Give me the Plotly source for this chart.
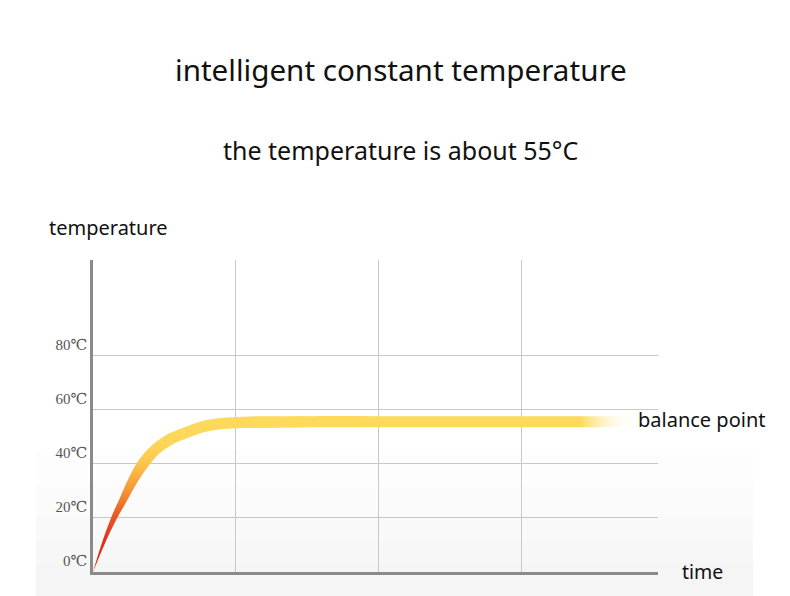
"""Intelligent constant temperature: heating curve up to the balance point."""
import math

import plotly.graph_objects as go

# ---------------------------------------------------------------- data
time_pts = [0, 0.068, 0.147, 0.21, 0.28, 0.35, 0.432, 0.549, 0.677, 0.794,
            0.91, 1.07, 1.5, 2.0, 2.5, 3.0, 3.5, 3.8]
temp_pts = [0, 10, 20, 26.6, 34, 40, 45.1, 49.4, 52.1, 54.1,
            55.0, 55.4, 55.6, 55.6, 55.6, 55.6, 55.6, 55.6]
y_ticks = [0, 20, 40, 60, 80]
y_tick_text = ["0℃", "20℃", "40℃", "60℃", "80℃"]
x_grid = [1, 2, 3]

# ---------------------------------------------------------------- geometry
W, H = 790, 596
OFF = 8                                      # page body margin
L, R, T, B = 93.3, 658, 260, 571.7          # plot area, page pixels
SX, SY = 142.9, 2.7                          # px per time unit / per degree
X_MAX = (R - L) / SX
Y_MAX = (B - T) / SY

HALF = 5.6                                   # half stroke width, px

YELLOW = "#fdda5b"
SANS = "Noto Sans, Open Sans, sans-serif"


def px(x):
    return (x - L) / (R - L)


def py(y):
    return (B - y) / (B - T)


def band(ts, ys):
    """edges of the stroke, offset along the normal, tapered at the origin"""
    n = len(ts)
    lo_x, lo_y, up_x, up_y = [], [], [], []
    for i in range(n):
        a, b = max(i - 1, 0), min(i + 1, n - 1)
        tx = (ts[b] - ts[a]) * SX
        ty = (ys[b] - ys[a]) * SY
        d = math.hypot(tx, ty) or 1.0
        nx, ny = -ty / d, tx / d
        h = HALF * min(1.0, ys[i] / 40.0)
        up_x.append(ts[i] + nx * h / SX)
        up_y.append(ys[i] + ny * h / SY)
        lo_x.append(ts[i] - nx * h / SX)
        lo_y.append(ys[i] - ny * h / SY)
    return lo_x, lo_y, up_x, up_y


fig = go.Figure()


def add_band(ts, ys, gradient):
    lo_x, lo_y, up_x, up_y = band(ts, ys)
    fig.add_trace(go.Scatter(x=lo_x, y=lo_y, mode="lines",
                             line=dict(width=0, shape="spline"),
                             hoverinfo="skip", showlegend=False))
    fig.add_trace(go.Scatter(x=up_x, y=up_y, mode="lines", fill="tonexty",
                             line=dict(width=0, shape="spline"),
                             fillgradient=gradient,
                             hoverinfo="skip", showlegend=False))


# rising part: red at the bottom turning yellow
rise = [i for i, t in enumerate(time_pts) if t <= 1.5]
add_band([time_pts[i] for i in rise], [temp_pts[i] for i in rise],
         dict(type="vertical", start=0, stop=56,
              colorscale=[[0, "#d41f16"], [0.2, "#de2f1b"], [0.38, "#ea5a24"],
                          [0.55, "#f59a37"], [0.72, "#fcc64c"],
                          [0.85, "#fdd658"], [1, YELLOW]]))

# flat part: yellow fading out at the right end
flat = [i for i, t in enumerate(time_pts) if t >= 1.0]
add_band([time_pts[i] for i in flat], [temp_pts[i] for i in flat],
         dict(type="horizontal", start=1.0, stop=time_pts[-1],
              colorscale=[[0, YELLOW], [0.86, YELLOW],
                          [1, "rgba(255,255,255,0)"]]))

# faint grey wash at the bottom of the picture
shapes = []
for top in (450, 485, 515, 540, 562):
    shapes.append(dict(type="rect", xref="paper", yref="paper", layer="below",
                       x0=px(36), x1=px(753), y0=py(H + 2), y1=py(top),
                       fillcolor="rgba(0,0,0,0.008)", line=dict(width=0)))

annotations = [
    dict(text="intelligent constant temperature", x=px(401), y=py(70),
         font=dict(size=29.6, color="#111")),
    dict(text="the temperature is about 55°C", x=px(401), y=py(150),
         font=dict(size=25, color="#111")),
    dict(text="temperature", x=px(47), y=py(228), xanchor="left",
         font=dict(size=20, color="#111")),
    dict(text="balance point", x=px(636), y=py(419), xanchor="left",
         font=dict(size=20, color="#111")),
    dict(text="time", x=px(680), y=py(571), xanchor="left",
         font=dict(size=19.5, color="#111")),
]
for a in annotations:
    a.update(xref="paper", yref="paper", showarrow=False,
             xanchor=a.get("xanchor", "center"), yanchor="middle")
    a["font"]["family"] = SANS

fig.update_layout(
    width=W - OFF, height=H - OFF,
    margin=dict(l=L - OFF, r=W - R, t=T - OFF, b=H - B),
    paper_bgcolor="white", plot_bgcolor="rgba(0,0,0,0)",
    shapes=shapes, annotations=annotations,
    showlegend=False,
)
fig.update_xaxes(range=[0, X_MAX], tickvals=x_grid, showticklabels=False,
                 showgrid=True, gridcolor="#c8c8c8", gridwidth=1,
                 showline=True, linecolor="#8a8a8a", linewidth=2.5,
                 zeroline=False, ticks="")
fig.update_yaxes(range=[0, Y_MAX], tickvals=y_ticks, ticktext=y_tick_text,
                 showgrid=True, gridcolor="#c8c8c8", gridwidth=1,
                 showline=True, linecolor="#8a8a8a", linewidth=2.5,
                 zeroline=False, ticks="", ticklabelstandoff=0,
                 ticklabelshift=-11,
                 tickfont=dict(family="Liberation Serif, DejaVu Serif, serif",
                               size=15, color="#555"))

fig.write_html("out.html")
